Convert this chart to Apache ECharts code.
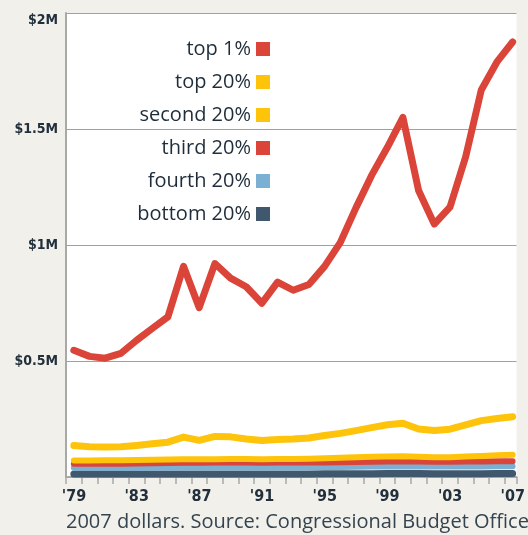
<!DOCTYPE html>
<html>
<head>
<meta charset="utf-8">
<script src="https://cdn.jsdelivr.net/npm/echarts@6/dist/echarts.min.js"></script>
<style>
  html, body { margin: 0; padding: 0; background: #f2f0eb; }
  #chart { width: 528px; height: 535px; }
</style>
</head>
<body>
<div id="chart"></div>
<script>
// 数据 (百万美元, 2007 dollars)
const years = [1979,1980,1981,1982,1983,1984,1985,1986,1987,1988,1989,1990,1991,1992,1993,1994,1995,1996,1997,1998,1999,2000,2001,2002,2003,2004,2005,2006,2007]
const top1 = [0.546,0.52,0.512,0.533,0.589,0.64,0.69,0.908,0.73,0.92,0.857,0.82,0.749,0.84,0.805,0.83,0.908,1.01,1.16,1.3,1.42,1.55,1.235,1.09,1.163,1.379,1.668,1.789,1.875]
const top20 = [0.136,0.13,0.129,0.13,0.136,0.143,0.15,0.172,0.158,0.175,0.173,0.164,0.157,0.162,0.164,0.168,0.179,0.188,0.2,0.213,0.225,0.232,0.207,0.2,0.206,0.225,0.243,0.252,0.26]
const second20 = [0.071,0.071,0.072,0.072,0.073,0.074,0.075,0.076,0.076,0.077,0.078,0.078,0.077,0.078,0.078,0.079,0.081,0.083,0.085,0.087,0.088,0.089,0.087,0.085,0.085,0.088,0.091,0.094,0.096]
const third20 = [0.057,0.057,0.057,0.057,0.058,0.059,0.06,0.061,0.061,0.062,0.062,0.062,0.061,0.062,0.062,0.062,0.063,0.064,0.065,0.066,0.067,0.068,0.067,0.066,0.066,0.067,0.067,0.068,0.068]
const fourth20 = [0.04,0.04,0.04,0.04,0.04,0.041,0.041,0.042,0.042,0.042,0.042,0.042,0.042,0.042,0.042,0.042,0.043,0.043,0.044,0.045,0.045,0.046,0.045,0.045,0.045,0.045,0.045,0.046,0.046]
const bottom20 = [0.013,0.013,0.013,0.013,0.013,0.013,0.013,0.013,0.013,0.013,0.013,0.013,0.013,0.013,0.013,0.013,0.014,0.014,0.014,0.014,0.015,0.015,0.015,0.014,0.014,0.014,0.014,0.015,0.015]
const yTicks = { 0.5: '$0.5M', 1: '$1M', 1.5: '$1.5M', 2: '$2M' }

const myChart = echarts.init(document.getElementById('chart'))

// 年中值放在年份中间
function pts(arr) {
  return arr.map((v, i) => [years[i] + 0.5, v])
}

function line(name, arr, color, width, z) {
  return {
    name: name,
    type: 'line',
    data: pts(arr),
    symbol: 'none',
    z: z,
    lineStyle: { color: color, width: width, join: 'round', cap: 'round' },
    itemStyle: { color: color }
  }
}

const labelFont = "'Liberation Sans Narrow', 'DejaVu Sans Condensed', sans-serif"

const option = {
  backgroundColor: '#f2f0eb',
  animation: false,
  title: {
    text: '2007 dollars. Source: Congressional Budget Office',
    left: 61,
    top: 507,
    textStyle: { fontSize: 20, fontWeight: 'normal', color: '#34444f', fontFamily: 'Open Sans' }
  },
  legend: {
    orient: 'vertical',
    right: 253,
    top: 34,
    align: 'right',
    icon: 'rect',
    itemWidth: 14,
    itemHeight: 14,
    itemGap: 13,
    textStyle: { fontSize: 20, lineHeight: 18, color: '#1f2d3a', fontFamily: 'Open Sans' },
    data: ['top 1%', 'top 20%', 'second 20%', 'third 20%', 'fourth 20%', 'bottom 20%']
  },
  grid: {
    left: 66,
    right: 5,
    top: 13,
    bottom: 58,
    show: true,
    backgroundColor: '#ffffff',
    borderWidth: 0
  },
  xAxis: {
    type: 'value',
    min: 1979,
    max: 2007.75,
    interval: 1,
    axisLine: { lineStyle: { color: '#a8a8a8', width: 2 } },
    axisTick: { length: 7, lineStyle: { color: '#a8a8a8', width: 1.5 } },
    splitLine: { show: false },
    axisLabel: {
      margin: 12,
      formatter: function (v) {
        if (v % 1 !== 0 || (v - 1979) % 4 !== 0) return ''
        return '{y|\'' + String(v).slice(2) + '}'
      },
      rich: {
        y: { fontSize: 16, fontWeight: 'bold', color: '#22303c', fontFamily: labelFont, padding: [0, 0, 0, 16] }
      }
    }
  },
  yAxis: {
    type: 'value',
    min: 0,
    max: 2,
    interval: 0.5,
    axisLine: { show: true, lineStyle: { color: '#a8a8a8', width: 2 } },
    axisTick: { show: false },
    splitLine: { lineStyle: { color: '#a0a0a0', width: 1 } },
    axisLabel: {
      margin: 8,
      formatter: function (v) {
        if (!yTicks[v]) return ''
        return v === 2 ? '{t|' + yTicks[v] + '}' : '{n|' + yTicks[v] + '}'
      },
      rich: {
        n: { fontSize: 14, fontWeight: 'bold', color: '#22303c', fontFamily: labelFont },
        t: { fontSize: 14, fontWeight: 'bold', color: '#22303c', fontFamily: labelFont, padding: [14, 0, 0, 0] }
      }
    }
  },
  series: [
    line('bottom 20%', bottom20, '#3f586e', 7, 2),
    line('fourth 20%', fourth20, '#79b0d3', 6, 3),
    line('third 20%', third20, '#db4438', 6, 4),
    line('second 20%', second20, '#fec40c', 6, 5),
    line('top 20%', top20, '#fec40c', 7, 6),
    line('top 1%', top1, '#db4438', 7, 7)
  ]
}

myChart.setOption(option)
</script>
</body>
</html>
